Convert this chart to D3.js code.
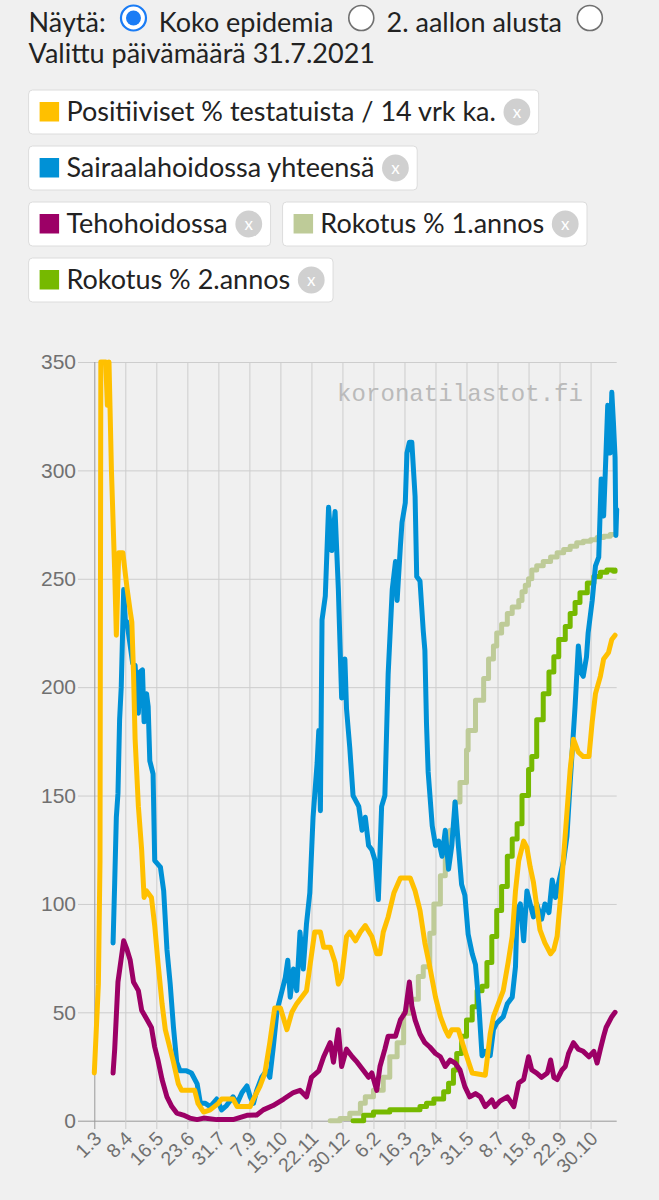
<!DOCTYPE html>
<html><head><meta charset="utf-8">
<script src="https://cdn.jsdelivr.net/npm/d3@7/dist/d3.min.js"></script>
<style>
html,body{margin:0;padding:0;background:#f0f0f0;}
svg{display:block;}
</style></head><body>
<svg id="c" width="659" height="1200"></svg>
<script>
// ---- DATA ----
// x values are days since 1.3.2020
const yTicks = [0, 50, 100, 150, 200, 250, 300, 350];
const xTickDays = [0, 38, 76, 114, 152, 190, 228, 266, 304, 342, 380, 418, 456, 494, 532, 570, 608];
const xTickLabels = ["1.3","8.4","16.5","23.6","31.7","7.9","15.10","22.11","30.12","6.2","16.3","23.4","31.5","8.7","15.8","22.9","30.10"];

const legendLabels = ["Positiiviset % testatuista / 14 vrk ka.", "Sairaalahoidossa yhteensä", "Tehohoidossa", "Rokotus % 1.annos", "Rokotus % 2.annos"];
const seriesColors = ["#FFC000", "#0091D6", "#9C0066", "#BECB98", "#76B900"];

const positiiviset = [[0,22],[5,63],[7,120],[8,350],[14,350],[16,330],[18,350],[21,300],[25,253],[27,224],[30,262],[35,262],[40,246],[44,235],[46,230],[48,207],[50,176],[54,145],[58,125],[61,103],[64,106],[70,103],[74,90],[78,73],[83,54],[87,42],[91,36],[97,27],[103,17],[107,14],[123,14],[127,8],[134,4],[142,5],[152,8],[156,10],[170,10],[175,6.5],[191,6.5],[195,10],[203,16],[209,22],[215,36],[221,52],[228,52],[236,42],[242,50],[248,54],[260,60],[264,71],[270,87],[277,87],[281,80],[289,80],[295,73],[299,63],[303,66],[309,85],[313,87],[320,83],[326,87],[332,90],[340,85],[346,77],[350,77],[354,87],[360,94],[367,105],[375,112],[387,112],[393,106],[399,97],[405,82],[411,71],[418,57],[424,48],[430,42],[434,39],[438,42],[446,42],[450,37],[456,30],[463,22],[479,21],[485,40],[489,48],[495,54],[501,60],[507,73],[512,85],[516,106],[520,120],[526,129],[530,126],[534,117],[538,110],[542,99],[546,88],[552,82],[559,77],[563,79],[567,85],[571,102],[575,122],[579,142],[583,162],[587,176],[593,170],[599,168],[606,168],[610,184],[614,197],[620,205],[624,213],[630,216],[634,222],[638,224]];

const sairaala = [[23,82],[25,110],[27,140],[29,151],[31,185],[33,200],[36,245],[38,231],[40,230],[47,211],[50,210],[54,188],[56,207],[59,208],[61,184],[64,197],[66,191],[68,166],[72,160],[74,120],[81,117],[85,106],[89,79],[93,63],[97,43],[101,27],[105,23],[113,23],[119,22],[126,17],[130,8],[136,8],[142,6.5],[150,10],[156,5],[162,7],[170,11],[175,8],[181,13],[187,16],[191,11],[195,8],[199,14],[205,20],[211,23],[215,20],[219,33],[224,51],[228,57],[234,66],[237,74],[240,57],[244,70],[248,60],[252,87],[256,70],[260,91],[264,105],[268,140],[273,165],[275,180],[277,143],[279,231],[283,242],[287,283],[291,263],[295,281],[299,245],[303,195],[307,213],[309,190],[313,172],[317,150],[324,145],[328,134],[332,140],[336,127],[340,125],[344,120],[348,102],[352,145],[356,150],[360,206],[365,245],[369,258],[371,240],[375,265],[377,276],[381,285],[383,308],[386,313],[389,313],[393,288],[395,251],[399,249],[403,226],[405,217],[407,183],[409,161],[414,136],[418,127],[422,129],[426,122],[430,134],[434,116],[438,127],[442,147],[446,127],[450,109],[454,104],[458,86],[463,77],[467,72],[471,54],[475,30],[479,32],[485,30],[489,42],[493,45],[501,48],[506,54],[512,57],[516,71],[518,97],[522,100],[526,83],[530,106],[534,100],[538,94],[542,100],[548,93],[552,100],[557,96],[561,111],[565,103],[569,110],[575,120],[579,131],[583,156],[589,191],[593,219],[596,207],[599,205],[603,214],[605,225],[610,240],[614,256],[618,260],[621,296],[624,279],[626,299],[629,330],[632,308],[634,336],[636,322],[638,306],[639,270],[640,282]];

const teho = [[23,22],[25,33],[29,64],[36,83],[40,79],[44,74],[48,64],[54,60],[58,51],[64,47],[70,43],[74,34],[78,28],[83,19],[89,11],[95,6.5],[101,3.5],[109,2.6],[117,1.2],[126,0.5],[134,1.2],[150,0.5],[170,0.5],[187,2.5],[199,2.6],[207,5],[219,7],[232,10],[244,13],[252,14],[260,11],[266,20],[275,23],[281,29.5],[289,36],[293,27],[299,42],[303,25],[309,33],[316,29.5],[322,27],[330,23],[336,20],[340,22],[346,14],[350,25],[356,33],[360,39],[369,39],[375,46.5],[381,50],[386,64],[389,53],[393,46.5],[399,40],[405,36],[411,34],[418,31],[424,29.5],[430,25],[436,28],[442,26.6],[448,23.4],[454,15.7],[460,11],[467,12.5],[473,11],[479,6.5],[487,9.6],[491,6.5],[497,9],[506,11],[514,6.5],[520,17.4],[526,19],[532,29.5],[536,23.4],[542,22],[548,20],[555,22],[559,28],[563,20],[567,19],[573,23.4],[577,25],[581,31],[587,36],[593,33],[599,32],[606,29.5],[612,32],[616,26.6],[620,33],[624,39],[627,43],[634,48],[638,50]];

const rokotus1 = [[289,0],[301,1],[313,3.4],[326,8],[332,11],[342,14],[354,20],[362,29.5],[371,36],[379,49.6],[387,56],[397,66.5],[403,71],[411,86.5],[416,100],[424,113],[430,125],[436,134],[442,147],[448,156],[456,171],[458,180],[467,194],[477,204],[483,213],[489,219],[493,225],[499,229],[506,234],[512,237],[520,240],[524,244],[528,247],[532,250],[536,254],[542,256],[550,258],[559,260],[567,262],[575,263.5],[583,265],[591,266.6],[599,267.3],[608,268],[616,269],[624,269.6],[632,270.4],[638,270.4]];

const rokotus2 = [[317,0],[330,2.5],[342,4],[362,5],[399,6.5],[407,8],[416,10],[428,13.4],[434,17.3],[440,23.4],[444,31],[450,39],[456,46.5],[463,52.6],[469,60],[475,62],[481,73],[487,85],[493,97],[499,108],[506,122],[512,130],[518,137],[524,150],[532,162],[536,168],[542,185],[550,197],[557,207],[563,214],[569,222],[577,228],[583,234],[589,239],[595,243.5],[604,248],[612,251],[620,253],[628,254],[636,253.5],[638,254]];

// ---- DRAW ----
const svg = d3.select('#c');
const FONT = "Lato, 'Open Sans', sans-serif";
const FS = '27px';

// header
const hdr = svg.append('g').style('font-family', FONT).style('font-size', FS).attr('fill', '#222');
let hx = 28.6;
const t0 = hdr.append('text').attr('x', hx).attr('y', 31.5).text('Näytä:');
hx += t0.node().getComputedTextLength() + 14.3 + 13.5;
const radioOpts = ["Koko epidemia", "2. aallon alusta", ""];
radioOpts.forEach((lab, i) => {
  if (i === 0) {
    hdr.append('circle').attr('cx', hx).attr('cy', 18).attr('r', 12.5).attr('fill', '#fff').attr('stroke', '#1a7cf5').attr('stroke-width', 2.2);
    hdr.append('circle').attr('cx', hx).attr('cy', 18).attr('r', 7.5).attr('fill', '#1a7cf5');
  } else {
    hdr.append('circle').attr('cx', hx).attr('cy', 18).attr('r', 12.5).attr('fill', '#fff').attr('stroke', '#707070').attr('stroke-width', 1.6);
  }
  if (lab) {
    const t = hdr.append('text').attr('x', hx + 13.5 + 11.8).attr('y', 31.5).text(lab);
    hx = hx + 13.5 + 11.8 + t.node().getComputedTextLength() + 14.3 + 13.5;
  }
});
hdr.append('text').attr('x', 28.6).attr('y', 63).text('Valittu päivämäärä 31.7.2021');

// legend boxes (flow layout)
let lx = 28.6, ly = 90;
const boxH = 44, rowStep = 56, maxRight = 645;
legendLabels.forEach((lab, i) => {
  const g = svg.append('g').style('font-family', FONT);
  const t = g.append('text').attr('x', 37.8).attr('y', 31).attr('font-size', FS).attr('fill', '#222').text(lab);
  const tw = t.node().getComputedTextLength();
  const w = 37.8 + tw + 7.6 + 26.8 + 8.4;
  if (lx + w > maxRight && lx > 30) { lx = 28.6; ly += rowStep; }
  g.attr('transform', `translate(${lx},${ly})`);
  g.insert('rect', 'text').attr('x', 0).attr('y', 0).attr('width', w).attr('height', boxH).attr('rx', 4)
    .attr('fill', '#fff').attr('stroke', '#dcdcdc').attr('stroke-width', 1);
  g.append('rect').attr('x', 11).attr('y', 12).attr('width', 19.5).attr('height', 19.5).attr('fill', seriesColors[i]);
  const ccx = 37.8 + tw + 7.6 + 13.4;
  g.append('circle').attr('cx', ccx).attr('cy', 22).attr('r', 13.4).attr('fill', '#d0d0d0');
  g.append('text').attr('x', ccx).attr('y', 22).attr('dy', '0.35em').attr('text-anchor', 'middle')
    .attr('font-size', '17px').attr('fill', '#fff').text('x');
  lx += w + 12;
});

// chart
const x = d3.scaleLinear().domain([0, 640]).range([94.3, 616.7]);
const y = d3.scaleLinear().domain([0, 350]).range([1120.7, 362]);
const left = 78, right = 616.7;

const yAxis = svg.append('g').attr('transform', `translate(${right},0)`)
  .call(d3.axisLeft(y).tickValues(yTicks).tickSize(right - left).tickPadding(2).tickFormat(d3.format('d')));
yAxis.select('.domain').remove();
yAxis.selectAll('line').attr('stroke', d => d === 0 ? '#999' : '#cdcdcd');
yAxis.selectAll('text').attr('fill', '#707070').style('font-family', "'Liberation Sans', Arial, sans-serif").style('font-size', '21px');

const xAxis = svg.append('g').attr('transform', `translate(0,${y(350)})`)
  .call(d3.axisBottom(x).tickValues(xTickDays).tickSize(1129 - y(350)).tickFormat((d, i) => xTickLabels[i]));
xAxis.select('.domain').remove();
xAxis.selectAll('line').attr('stroke', (d, i) => i === 0 ? '#999' : '#cdcdcd');
xAxis.selectAll('text')
  .attr('y', 0).attr('x', 0).attr('dy', '0.35em')
  .attr('transform', `translate(3,${1135 - y(350)}) rotate(-45)`)
  .style('text-anchor', 'end')
  .attr('fill', '#707070').style('font-family', "'Liberation Sans', Arial, sans-serif").style('font-size', '19.5px');

// watermark
svg.append('text').attr('x', 337).attr('y', 401).attr('textLength', 246).attr('lengthAdjust', 'spacing')
  .style('font-family', "'Liberation Mono', 'Courier New', monospace").style('font-size', '24px')
  .attr('fill', '#bababa').text('koronatilastot.fi');

const lineLin = d3.line().x(d => x(d[0])).y(d => y(d[1]));
const lineStep = d3.line().x(d => x(d[0])).y(d => y(d[1])).curve(d3.curveStepAfter);
const series = [
  { data: rokotus1, color: seriesColors[3], gen: lineStep },
  { data: rokotus2, color: seriesColors[4], gen: lineStep },
  { data: sairaala, color: seriesColors[1], gen: lineLin },
  { data: teho, color: seriesColors[2], gen: lineLin },
  { data: positiiviset, color: seriesColors[0], gen: lineLin }
];
svg.append('g').selectAll('path').data(series).join('path')
  .attr('d', s => s.gen(s.data))
  .attr('fill', 'none').attr('stroke', s => s.color).attr('stroke-width', 5)
  .attr('stroke-linejoin', 'round').attr('stroke-linecap', 'round');
</script>
</body></html>
